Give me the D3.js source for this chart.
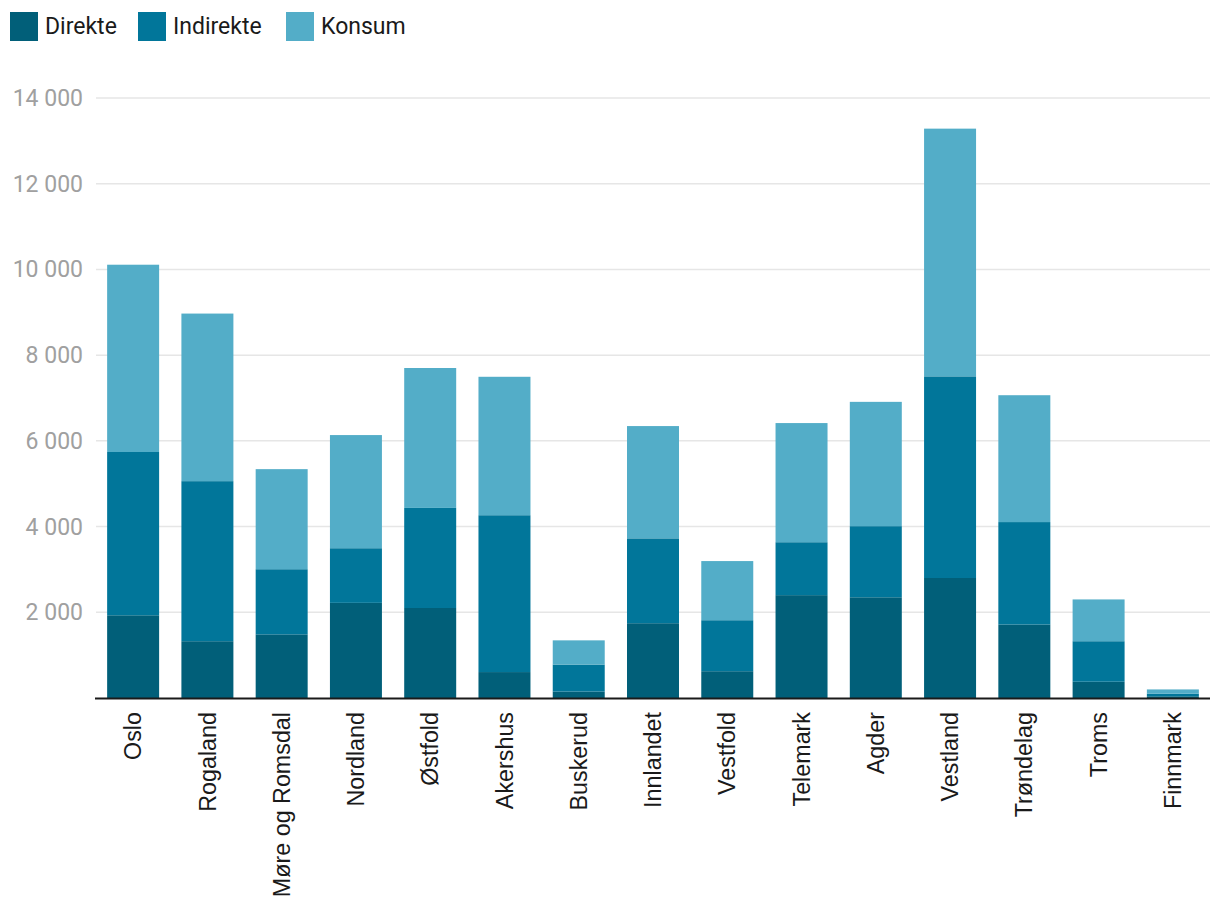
<!DOCTYPE html>
<html><head><meta charset="utf-8">
<script src="https://cdn.jsdelivr.net/npm/d3@7"></script>
<style>body{margin:0;background:#fff}svg{display:block}</style>
</head><body>
<script>
const categories = ["Oslo","Rogaland","Møre og Romsdal","Nordland","Østfold","Akershus","Buskerud","Innlandet","Vestfold","Telemark","Agder","Vestland","Trøndelag","Troms","Finnmark"];
const direkte   = [1930,1325,1485,2220,2100,605,150,1745,625,2400,2350,2800,1715,380,40];
const indirekte = [3810,3735,1520,1275,2335,3660,630,1980,1190,1235,1660,4705,2390,945,60];
const konsum    = [4370,3910,2335,2640,3265,3230,565,2620,1380,2780,2900,5780,2960,975,100];
const seriesNames = ["Direkte","Indirekte","Konsum"];
const colors = ["#015f79","#01769a","#53adc8"];
const yTicks = [2000,4000,6000,8000,10000,12000,14000];

const W=1220,H=918;
const svg=d3.select("body").append("svg").attr("width",W).attr("height",H);
const x=d3.scaleBand().domain(categories).range([96,1210]).paddingInner(0.3).paddingOuter(0.15);
const y=d3.scaleLinear().domain([0,14000]).range([698,98]);

const rows=categories.map((c,i)=>({cat:c,Direkte:direkte[i],Indirekte:indirekte[i],Konsum:konsum[i]}));
const stack=d3.stack().keys(seriesNames)(rows);

svg.append("g").selectAll("line").data(yTicks).join("line")
  .attr("x1",96).attr("x2",1210).attr("y1",d=>y(d)).attr("y2",d=>y(d))
  .attr("stroke","#e6e6e6").attr("stroke-width",1.5);
svg.append("g").selectAll("text").data(yTicks).join("text")
  .attr("x",83).attr("y",d=>y(d)).attr("dy","0.35em").attr("text-anchor","end")
  .attr("font-family","Roboto").attr("font-size",23).attr("fill","#a0a0a0")
  .text(d=>d3.format(",")(d).replace(","," "));

svg.append("g").selectAll("g").data(stack).join("g").attr("fill",(d,i)=>colors[i])
  .selectAll("rect").data(d=>d).join("rect")
  .attr("x",d=>x(d.data.cat)).attr("width",x.bandwidth())
  .attr("y",d=>y(d[1])).attr("height",d=>y(d[0])-y(d[1]));

svg.append("line").attr("x1",95).attr("x2",1210).attr("y1",698.5).attr("y2",698.5)
  .attr("stroke","#1a1a1a").attr("stroke-width",2);

svg.append("g").selectAll("text").data(categories).join("text")
  .attr("transform",d=>`translate(${x(d)+x.bandwidth()/2},712) rotate(-90)`)
  .attr("dy","0.35em").attr("text-anchor","end")
  .attr("font-family","Liberation Sans, Arial, sans-serif").attr("font-size",23.3).attr("fill","#1a1a1a")
  .text(d=>d);

const legX=[10,138,286];
const lg=svg.append("g").selectAll("g").data(seriesNames).join("g")
  .attr("transform",(d,i)=>`translate(${legX[i]},12)`);
lg.append("rect").attr("width",28).attr("height",29).attr("fill",(d,i)=>colors[i]);
lg.append("text").attr("x",35).attr("y",22).attr("font-family","Roboto").attr("font-size",23)
  .attr("fill","#1a1a1a").text(d=>d);
</script>
</body></html>
